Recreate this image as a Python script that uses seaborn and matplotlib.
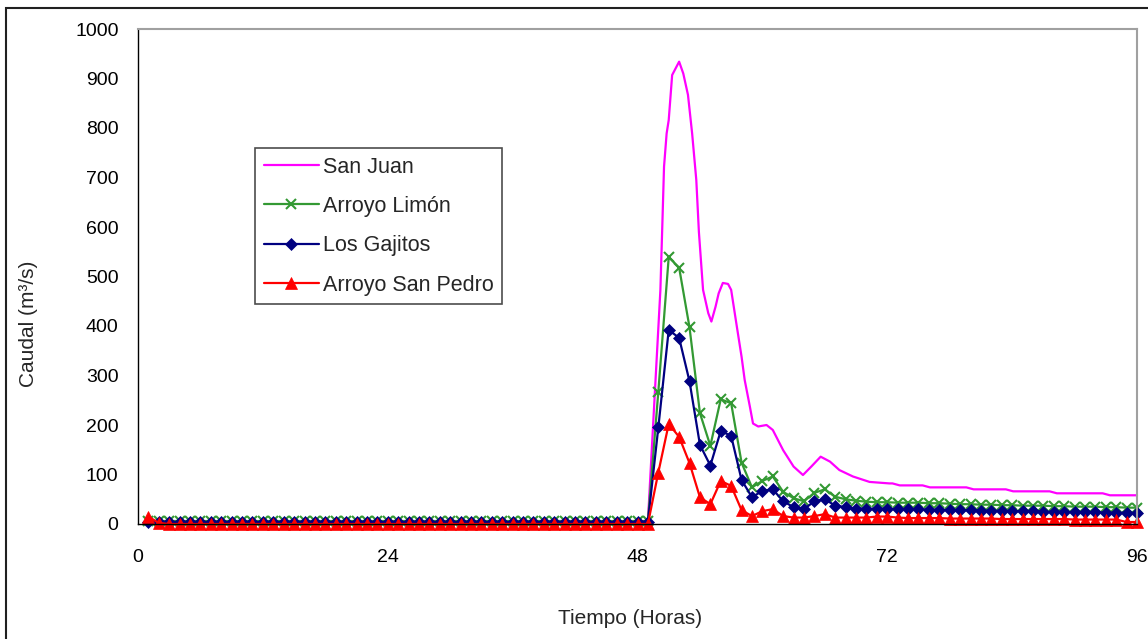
import matplotlib
matplotlib.use("Agg")
import matplotlib.pyplot as plt
import seaborn as sns
import numpy as np
import pandas as pd
from matplotlib.patches import Rectangle

# ---------------- data ----------------
hours = list(range(1, 97))

# San Juan (line only, read at breakpoints)
sj_t = [1, 49.0, 50.2, 50.4, 50.55, 50.8, 51.0, 51.33, 52.0, 52.4, 52.85, 53.25,
        53.65, 53.9, 54.3, 54.8, 55.1, 55.5, 55.8, 56.2, 56.7, 57.0, 57.5, 58.0,
        58.3, 58.8, 59.1, 59.6, 60.4, 61.0, 62.0, 63.0, 63.9, 64.7, 65.6, 66.5,
        67.4, 68.7, 70.3, 72.2, 72.5, 73.2, 75.4, 76.1, 79.6, 80.3, 83.4, 84.1,
        87.6, 88.3, 92.7, 93.4, 96]
sj_q = [5, 5, 473, 614, 722, 789, 816, 907, 934, 910, 867, 789,
        695, 590, 473, 426, 409, 439, 466, 487, 485, 473, 405, 338,
        291, 237, 203, 197, 200, 190, 149, 116, 99, 116, 136, 126,
        109, 96, 85, 82, 82, 78, 78, 74, 74, 70, 70, 66,
        66, 62, 62, 58, 58]

arroyo_limon = [6, 6, 6, 6, 6, 6, 6, 6, 6, 6, 6, 6, 6, 6, 6, 6,
                6, 6, 6, 6, 6, 6, 6, 6, 6, 6, 6, 6, 6, 6, 6, 6,
                6, 6, 6, 6, 6, 6, 6, 6, 6, 6, 6, 6, 6, 6, 6, 6,
                6, 267, 539, 518, 397, 224, 158, 252, 244, 124, 74, 87,
                96, 65, 52, 46, 63, 70, 55, 50, 47, 45, 44, 44,
                43, 43, 43, 42, 42, 41, 40, 40, 39, 39, 38, 38,
                37, 37, 37, 36, 36, 35, 35, 35, 34, 34, 33, 33]

los_gajitos = [4, 4, 4, 4, 4, 4, 4, 4, 4, 4, 4, 4, 4, 4, 4, 4,
               4, 4, 4, 4, 4, 4, 4, 4, 4, 4, 4, 4, 4, 4, 4, 4,
               4, 4, 4, 4, 4, 4, 4, 4, 4, 4, 4, 4, 4, 4, 4, 4,
               5, 195, 392, 376, 288, 160, 118, 188, 178, 89, 54, 67,
               70, 46, 34, 30, 46, 50, 37, 34, 31, 31, 31, 31,
               30, 30, 30, 29, 29, 28, 28, 28, 27, 27, 27, 26,
               26, 26, 25, 25, 25, 24, 24, 24, 23, 23, 23, 22]

arroyo_san_pedro = [15, 2, 0, 0, 0, 0, 0, 0, 0, 0, 0, 0, 0, 0, 0, 0,
                    0, 0, 0, 0, 0, 0, 0, 0, 0, 0, 0, 0, 0, 0, 0, 0,
                    0, 0, 0, 0, 0, 0, 0, 0, 0, 0, 0, 0, 0, 0, 0, 0,
                    0, 104, 202, 176, 123, 54, 40, 87, 77, 28, 16, 26,
                    30, 16, 13, 13, 16, 20, 13, 13, 13, 13, 15, 15,
                    13, 12, 12, 12, 12, 11, 11, 11, 11, 11, 10, 10,
                    10, 10, 10, 10, 10, 9, 9, 9, 9, 9, 4, 4]

series_names = ["San Juan", "Arroyo Limón", "Los Gajitos", "Arroyo San Pedro"]
x_ticks = [0, 24, 48, 72, 96]
y_ticks = list(range(0, 1001, 100))

# ---------------- plot ----------------
sns.set_style("white")
plt.rcParams['font.family'] = ['Liberation Sans', 'DejaVu Sans']

W, H = 1148, 639
fig = plt.figure(figsize=(W / 100, H / 100), dpi=100)
ax = fig.add_axes([138 / W, 1 - 524 / H, (1137 - 138) / W, (524 - 29) / H])

C_SJ, C_AL, C_LG, C_SP = "#FF00FF", "#339933", "#000080", "#FF0000"

sns.lineplot(x=sj_t, y=sj_q, ax=ax, color=C_SJ, linewidth=1.6,
             label=series_names[0], sort=False, clip_on=False)
sns.lineplot(x=hours, y=arroyo_limon, ax=ax, color=C_AL, linewidth=1.6,
             marker="x", markersize=6.5, markeredgewidth=1.5,
             markeredgecolor=C_AL, label=series_names[1], clip_on=False)
sns.lineplot(x=hours, y=los_gajitos, ax=ax, color=C_LG, linewidth=1.6,
             marker="D", markersize=6, markeredgewidth=0.5,
             markeredgecolor=C_LG, label=series_names[2], clip_on=False)
sns.lineplot(x=hours, y=arroyo_san_pedro, ax=ax, color=C_SP, linewidth=1.6,
             marker="^", markersize=8, markeredgewidth=0.5,
             markeredgecolor=C_SP, label=series_names[3], clip_on=False)

ax.set_xlim(0, 96)
ax.set_ylim(0, 1000)
ax.set_xticks(x_ticks)
ax.set_yticks(y_ticks)
ax.tick_params(axis="both", which="both", direction="out", length=5,
               width=1, color="black", labelsize=14, labelcolor="black")
ax.tick_params(axis="x", pad=13)
ax.tick_params(axis="y", pad=9)

for side in ["left", "bottom"]:
    ax.spines[side].set_color("black")
    ax.spines[side].set_linewidth(1)
for side in ["top", "right"]:
    ax.spines[side].set_visible(True)
    ax.spines[side].set_color("#A0A0A0")
    ax.spines[side].set_linewidth(1.5)

ax.set_xlabel("Tiempo (Horas)", fontsize=15)
ax.set_ylabel("Caudal (m³/s)", fontsize=15)
ax.xaxis.set_label_coords((630 - 138) / 999, -(618 - 524) / 495)
ax.yaxis.set_label_coords(-(138 - 28) / 999, (524 - 324) / 495)
ax.xaxis.label.set_va("center")
ax.yaxis.label.set_va("center")

leg = ax.legend(loc="upper left", bbox_to_anchor=((255 - 138) / 999, (524 - 148) / 495),
                frameon=True, fancybox=False, fontsize=15.5, handlelength=2.55,
                handletextpad=0.2, labelspacing=0.85, borderpad=0.4,
                borderaxespad=0)
leg.get_frame().set_edgecolor("#202020")
leg.get_frame().set_linewidth(1.2)

# outer chart border
fig.patches.append(Rectangle((6 / W, -0.05), 1.2, (H - 8) / H + 0.05,
                             transform=fig.transFigure, fill=False,
                             edgecolor="#202020", linewidth=1.5))

fig.savefig("out.png", dpi=100)
